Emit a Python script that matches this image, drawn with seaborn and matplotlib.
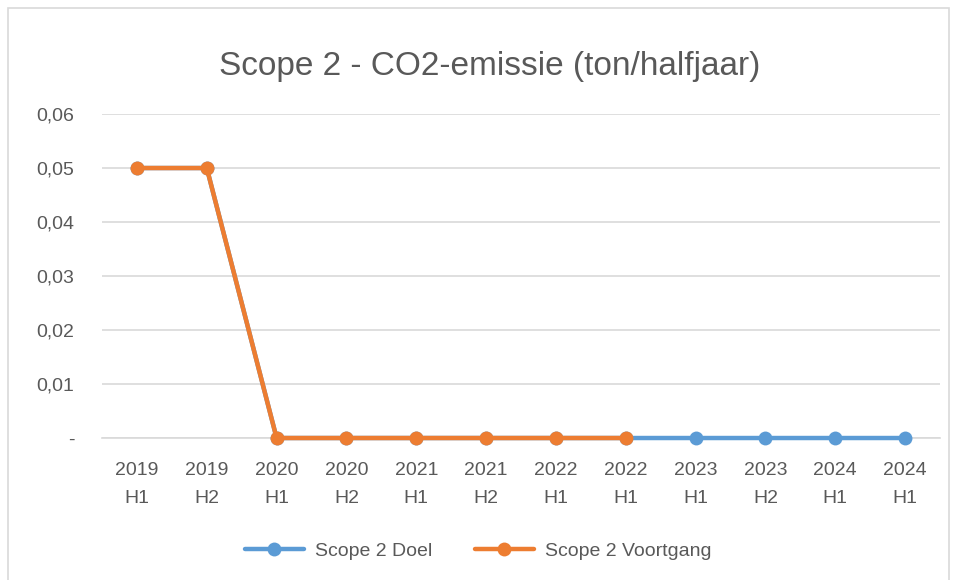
import numpy as np
import pandas as pd
import matplotlib
matplotlib.use("Agg")
import matplotlib.pyplot as plt
import seaborn as sns
from matplotlib.lines import Line2D
from matplotlib.patches import Rectangle

periods = ["2019\nH1", "2019\nH2", "2020\nH1", "2020\nH2", "2021\nH1", "2021\nH2",
           "2022\nH1", "2022\nH1", "2023\nH1", "2023\nH2", "2024\nH1", "2024\nH1"]
doel = [0.05, 0.05, 0, 0, 0, 0, 0, 0, 0, 0, 0, 0]
voortgang = [0.05, 0.05, 0, 0, 0, 0, 0, 0]

blue = "#5B9BD5"
orange = "#ED7D31"
text_col = "#595959"

sns.set_theme(style="white")
plt.rcParams["font.family"] = ["Liberation Sans", "DejaVu Sans"]

df_doel = pd.DataFrame({"idx": np.arange(len(doel)), "val": doel})
df_voort = pd.DataFrame({"idx": np.arange(len(voortgang)), "val": voortgang})

fig = plt.figure(figsize=(9.57, 5.8), dpi=100)
ax = fig.add_axes([0.1066, 0.2448, 0.8757, 0.5586])

sns.lineplot(data=df_doel, x="idx", y="val", ax=ax, color=blue, linewidth=3.2,
             marker="o", markersize=10, markeredgewidth=0)
sns.lineplot(data=df_voort, x="idx", y="val", ax=ax, color=orange, linewidth=3.2,
             marker="o", markersize=10, markeredgewidth=0)
for i, ln in enumerate(ax.lines):
    ln.set_clip_on(False)
    ln.set_zorder(4 + i)

ax.set_xlim(-0.5, len(periods) - 0.5)
ax.set_ylim(0, 0.06)
ax.set_yticks([0, 0.01, 0.02, 0.03, 0.04, 0.05, 0.06])
ax.set_yticklabels(["-", "0,01", "0,02", "0,03", "0,04", "0,05", "0,06"])
ax.set_xticks(np.arange(len(periods)))
ax.set_xticklabels(periods, linespacing=1.85)
ax.tick_params(axis="both", length=0, labelsize=14, colors=text_col)
ax.tick_params(axis="y", pad=20)
ax.tick_params(axis="x", pad=17)
ax.set_xlabel("")
ax.set_ylabel("")
ax.yaxis.grid(True, color="#D9D9D9", linewidth=1.2)
ax.set_axisbelow(True)
for s in ["left", "right", "top"]:
    ax.spines[s].set_visible(False)
ax.spines["bottom"].set_color("#D9D9D9")
ax.spines["bottom"].set_linewidth(1.2)

fig.suptitle("Scope 2 - CO2-emissie (ton/halfjaar)", x=0.512, y=0.912,
             fontsize=24, color=text_col)

handles = [Line2D([0], [0], color=blue, lw=3.2, marker="o", markersize=10, markeredgewidth=0),
           Line2D([0], [0], color=orange, lw=3.2, marker="o", markersize=10, markeredgewidth=0)]
fig.legend(handles, ["Scope 2 Doel", "Scope 2 Voortgang"], loc="center",
           bbox_to_anchor=(0.5, 0.05), ncol=2, frameon=False, fontsize=14,
           labelcolor=text_col, handlelength=3.0, handletextpad=0.6, columnspacing=2.2)

fig.patches.append(Rectangle((8 / 957, -0.1), 941 / 957, 1.1 - 8 / 580, transform=fig.transFigure,
                             fill=False, edgecolor="#D9D9D9", linewidth=1.2))

fig.savefig("out.png", dpi=100)
